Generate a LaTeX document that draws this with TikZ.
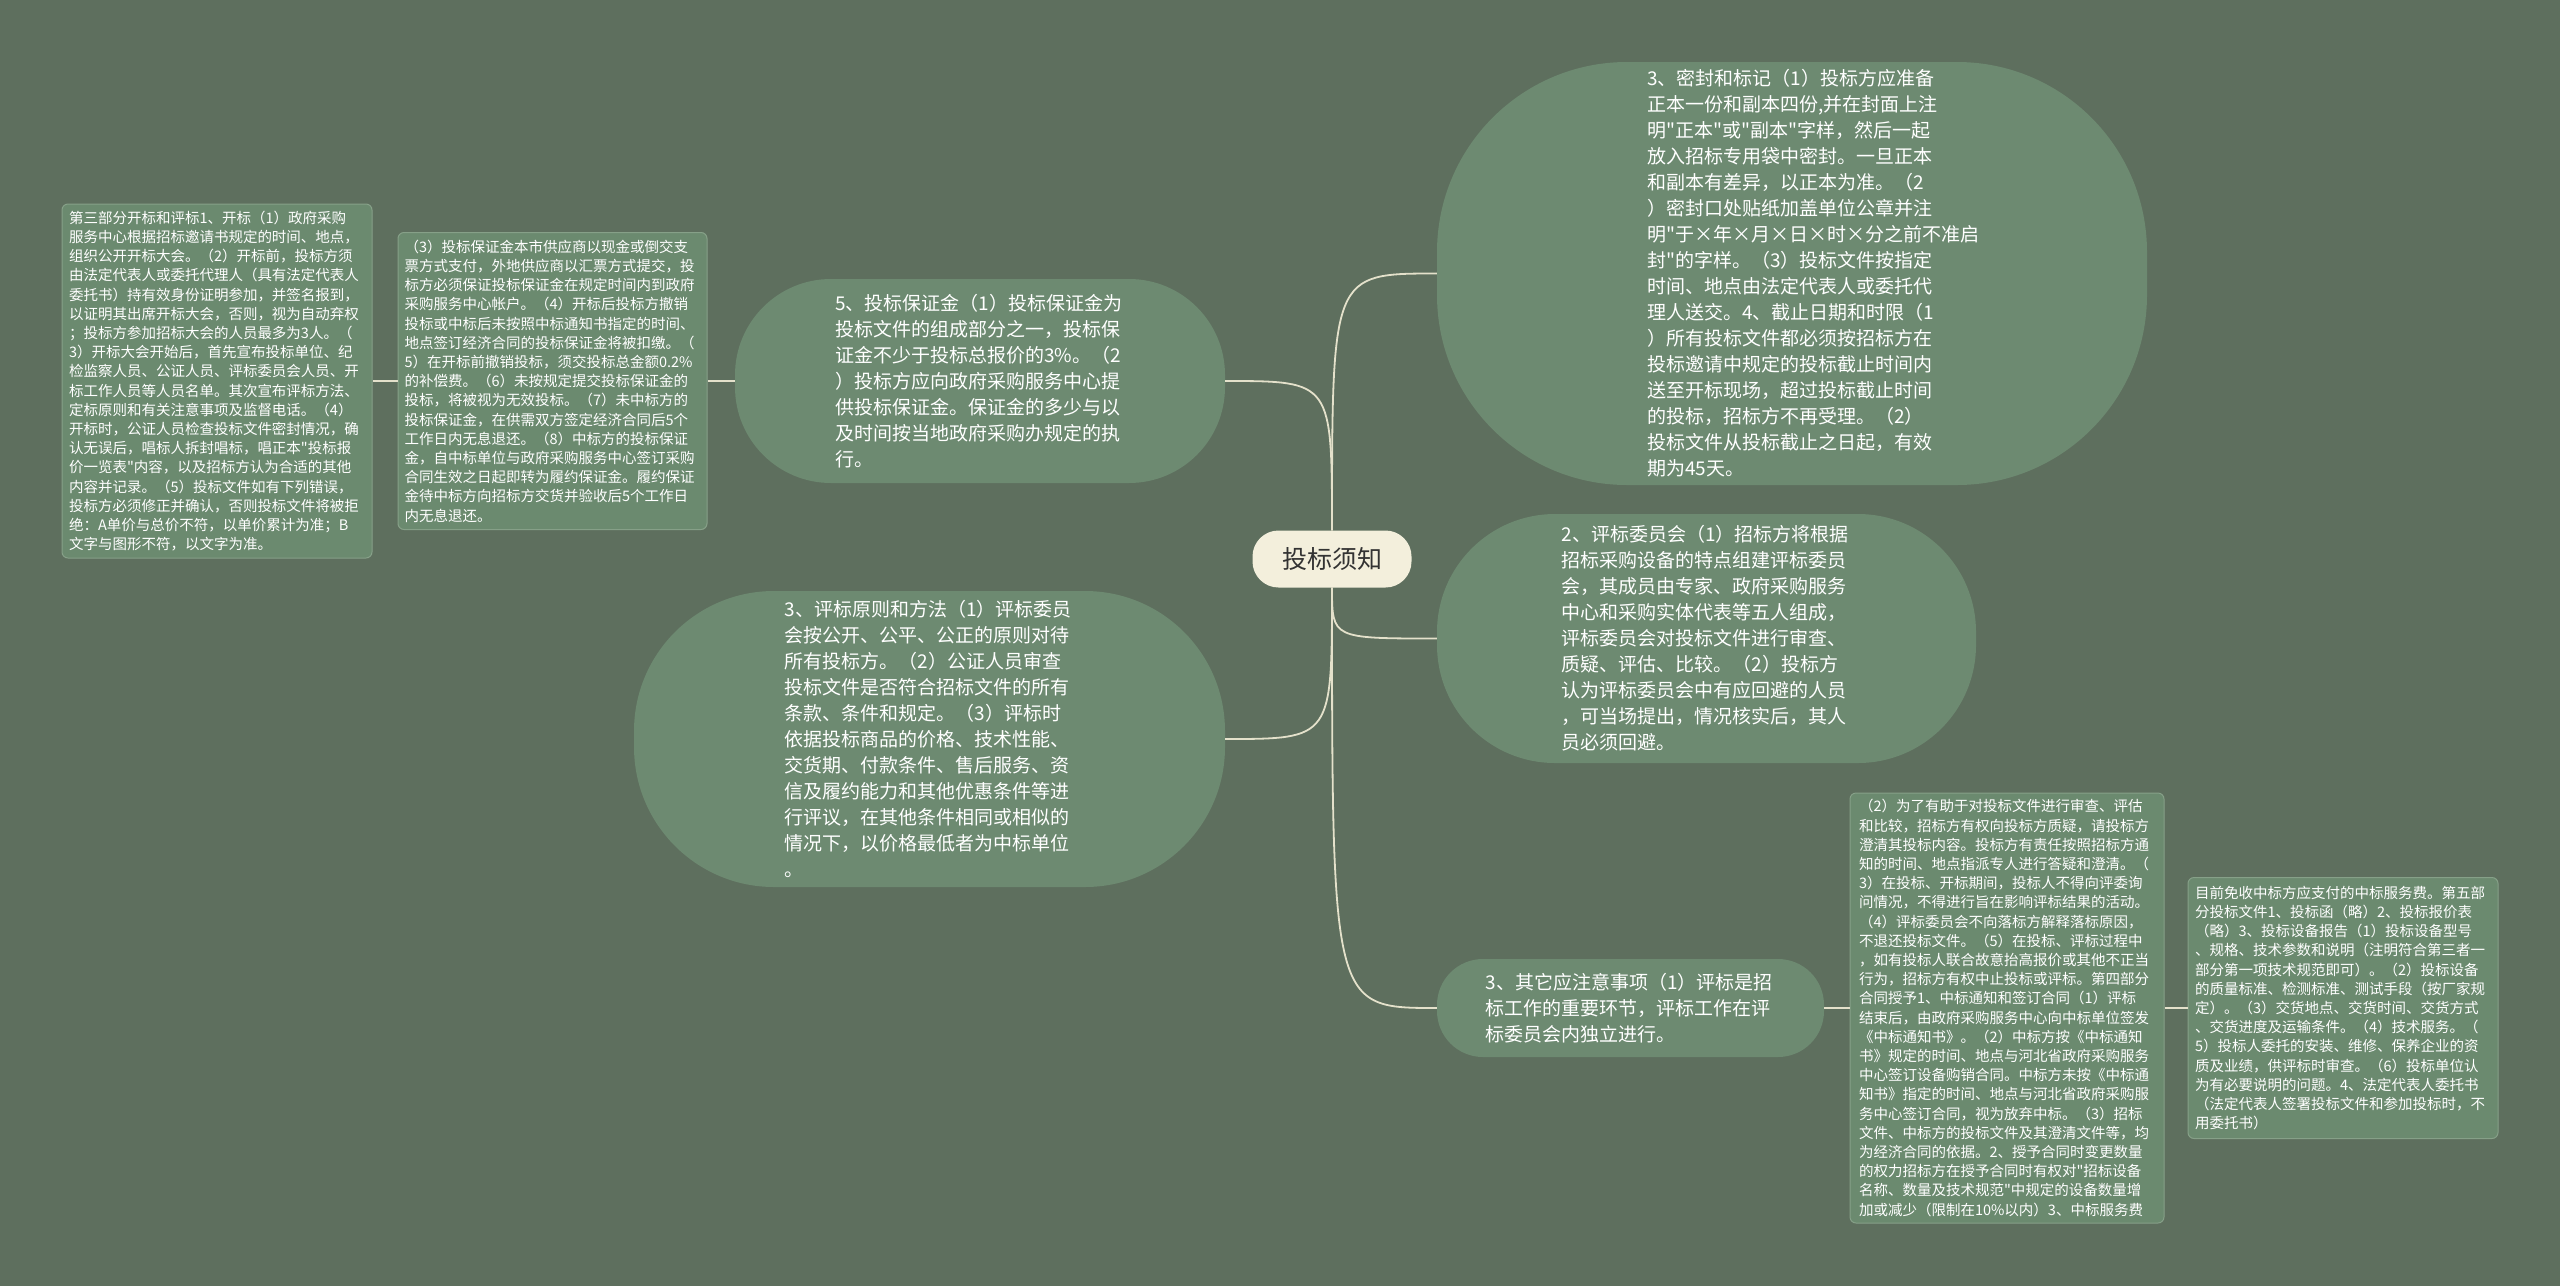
\documentclass[tikz,border=0pt]{standalone}
\usepackage{fontspec}
\setmainfont{Noto Sans CJK SC}[Ligatures=TeXOff]
\usepackage{tikz}
\definecolor{bgcol}{HTML}{5E6F5E}
\definecolor{topiccol}{HTML}{6D8A71}
\definecolor{notecol}{HTML}{6B8A6F}
\definecolor{noteline}{HTML}{86A088}
\definecolor{rootcol}{HTML}{F3EFDC}
\definecolor{linkcol}{HTML}{E4E1CB}
\tikzstyle{topic}=[fill=topiccol, text=white, align=left, text width=290, inner sep=0pt, font=\fontsize{19}{26}\selectfont]
\tikzstyle{note}=[fill=notecol, draw=noteline, line width=1, rounded corners=6, text=white, align=left, text width=296, inner sep=4, font=\fontsize{14.5}{19.2}\selectfont]
\tikzstyle{rootnode}=[fill=rootcol, text=black!80, rounded corners=26, minimum width=159, minimum height=57, font=\fontsize{25}{30}\selectfont]
\tikzstyle{link}=[draw=linkcol, line width=1.8]

\begin{document}
\begin{tikzpicture}[x=1pt,y=-1pt]
\fill[bgcol] (0,0) rectangle (2560,1286);
\node[rootnode] (root) at (1332,559){投标须知};
\node[topic, minimum width=710, minimum height=423, rounded corners=190] (seal) at (1792,273.5){3、密封和标记（1）投标方应准备\\正本一份和副本四份,并在封面上注\\明"正本"或"副本"字样，然后一起\\放入招标专用袋中密封。一旦正本\\和副本有差异，以正本为准。（2\\）密封口处贴纸加盖单位公章并注\\明"于×年×月×日×时×分之前不准启\\封"的字样。（3）投标文件按指定\\时间、地点由法定代表人或委托代\\理人送交。4、截止日期和时限（1\\）所有投标文件都必须按招标方在\\投标邀请中规定的投标截止时间内\\送至开标现场，超过投标截止时间\\的投标，招标方不再受理。（2）\\投标文件从投标截止之日起，有效\\期为45天。};
\node[topic, minimum width=539, minimum height=249, rounded corners=118] (comm) at (1706.5,638.5){2、评标委员会（1）招标方将根据\\招标采购设备的特点组建评标委员\\会，其成员由专家、政府采购服务\\中心和采购实体代表等五人组成，\\评标委员会对投标文件进行审查、\\质疑、评估、比较。（2）投标方\\认为评标委员会中有应回避的人员\\，可当场提出，情况核实后，其人\\员必须回避。};
\node[topic, minimum width=387, minimum height=98, rounded corners=46] (other) at (1630.5,1008){3、其它应注意事项（1）评标是招\\标工作的重要环节，评标工作在评\\标委员会内独立进行。};
\node[topic, minimum width=490, minimum height=204, rounded corners=96] (guar) at (980,381){5、投标保证金（1）投标保证金为\\投标文件的组成部分之一，投标保\\证金不少于投标总报价的3\%。（2\\）投标方应向政府采购服务中心提\\供投标保证金。保证金的多少与以\\及时间按当地政府采购办规定的执\\行。};
\node[topic, minimum width=591, minimum height=296, rounded corners=140] (prin) at (929.5,739){3、评标原则和方法（1）评标委员\\会按公开、公平、公正的原则对待\\所有投标方。（2）公证人员审查\\投标文件是否符合招标文件的所有\\条款、条件和规定。（3）评标时\\依据投标商品的价格、技术性能、\\交货期、付款条件、售后服务、资\\信及履约能力和其他优惠条件等进\\行评议，在其他条件相同或相似的\\情况下，以价格最低者为中标单位\\。};
\node[note, minimum width=309, minimum height=297] (guarx) at (552.5,381){（3）投标保证金本市供应商以现金或倒交支\\票方式支付，外地供应商以汇票方式提交，投\\标方必须保证投标保证金在规定时间内到政府\\采购服务中心帐户。（4）开标后投标方撤销\\投标或中标后未按照中标通知书指定的时间、\\地点签订经济合同的投标保证金将被扣缴。（\\5）在开标前撤销投标，须交投标总金额0.2\%\\的补偿费。（6）未按规定提交投标保证金的\\投标，将被视为无效投标。（7）未中标方的\\投标保证金，在供需双方签定经济合同后5个\\工作日内无息退还。（8）中标方的投标保证\\金，自中标单位与政府采购服务中心签订采购\\合同生效之日起即转为履约保证金。履约保证\\金待中标方向招标方交货并验收后5个工作日\\内无息退还。};
\node[note, minimum width=310, minimum height=354] (open) at (217,381){第三部分开标和评标1、开标（1）政府采购\\服务中心根据招标邀请书规定的时间、地点，\\组织公开开标大会。（2）开标前，投标方须\\由法定代表人或委托代理人（具有法定代表人\\委托书）持有效身份证明参加，并签名报到，\\以证明其出席开标大会，否则，视为自动弃权\\；投标方参加招标大会的人员最多为3人。（\\3）开标大会开始后，首先宣布投标单位、纪\\检监察人员、公证人员、评标委员会人员、开\\标工作人员等人员名单。其次宣布评标方法、\\定标原则和有关注意事项及监督电话。（4）\\开标时，公证人员检查投标文件密封情况，确\\认无误后，唱标人拆封唱标，唱正本"投标报\\价一览表"内容，以及招标方认为合适的其他\\内容并记录。（5）投标文件如有下列错误，\\投标方必须修正并确认，否则投标文件将被拒\\绝：A单价与总价不符，以单价累计为准；B\\文字与图形不符，以文字为准。};
\node[note, minimum width=314, minimum height=430] (notes) at (2007,1008){（2）为了有助于对投标文件进行审查、评估\\和比较，招标方有权向投标方质疑，请投标方\\澄清其投标内容。投标方有责任按照招标方通\\知的时间、地点指派专人进行答疑和澄清。（\\3）在投标、开标期间，投标人不得向评委询\\问情况，不得进行旨在影响评标结果的活动。\\（4）评标委员会不向落标方解释落标原因，\\不退还投标文件。（5）在投标、评标过程中\\，如有投标人联合故意抬高报价或其他不正当\\行为，招标方有权中止投标或评标。第四部分\\合同授予1、中标通知和签订合同（1）评标\\结束后，由政府采购服务中心向中标单位签发\\《中标通知书》。（2）中标方按《中标通知\\书》规定的时间、地点与河北省政府采购服务\\中心签订设备购销合同。中标方未按《中标通\\知书》指定的时间、地点与河北省政府采购服\\务中心签订合同，视为放弃中标。（3）招标\\文件、中标方的投标文件及其澄清文件等，均\\为经济合同的依据。2、授予合同时变更数量\\的权力招标方在授予合同时有权对"招标设备\\名称、数量及技术规范"中规定的设备数量增\\加或减少（限制在10\%以内）3、中标服务费};
\node[note, minimum width=310, minimum height=261] (docs) at (2343,1008){目前免收中标方应支付的中标服务费。第五部\\分投标文件1、投标函（略）2、投标报价表\\（略）3、投标设备报告（1）投标设备型号\\、规格、技术参数和说明（注明符合第三者一\\部分第一项技术规范即可）。（2）投标设备\\的质量标准、检测标准、测试手段（按厂家规\\定）。（3）交货地点、交货时间、交货方式\\、交货进度及运输条件。（4）技术服务。（\\5）投标人委托的安装、维修、保养企业的资\\质及业绩，供评标时审查。（6）投标单位认\\为有必要说明的问题。4、法定代表人委托书\\（法定代表人签署投标文件和参加投标时，不\\用委托书）};
\draw[link](root.north) .. controls (root.north |- seal.west) .. (seal.west);
\draw[link](root.south) .. controls (root.south |- comm.west) .. (comm.west);
\draw[link](root.south) .. controls (root.south |- other.west) .. (other.west);
\draw[link](root.north) .. controls (root.north |- guar.east) .. (guar.east);
\draw[link](root.south) .. controls (root.south |- prin.east) .. (prin.east);
\draw[link](guar) -- (guarx);
\draw[link](guarx) -- (open);
\draw[link](other) -- (notes);
\draw[link](notes) -- (docs);
\end{tikzpicture}
\end{document}
